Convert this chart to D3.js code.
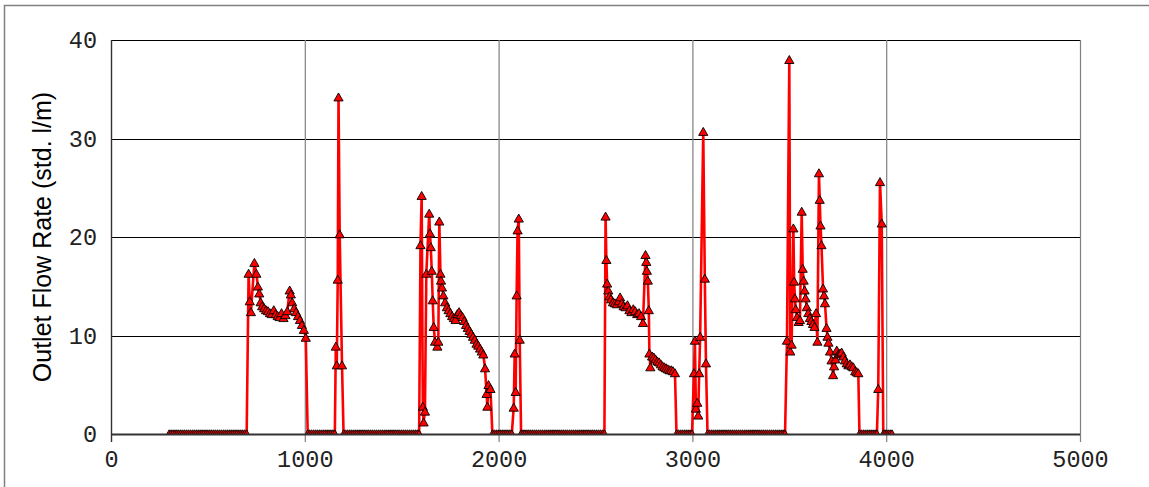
<!DOCTYPE html>
<html>
<head>
<meta charset="utf-8">
<script src="https://cdn.jsdelivr.net/npm/d3@7"></script>
<style>
  html, body { margin: 0; padding: 0; background: #ffffff; }
  svg { display: block; }
</style>
</head>
<body>
<svg id="chart" width="1149" height="487"></svg>
<script>
// Elapsed time (s) of each logged sample
const time = [
  300,310,320,330,340,350,360,370,380,390,
  400,410,420,430,440,450,460,470,480,490,
  500,510,520,530,540,550,560,570,580,590,
  600,610,620,630,640,650,660,670,680,690,
  700,
  710,716,722,740,750,758,765,772,780,790,
  800,810,820,830,840,850,860,870,880,890,
  900,910,922,928,935,945,955,965,975,985,
  995,1005,
  1015,1025,1035,1045,1055,1065,1075,1085,1095,1105,
  1115,1125,1135,1145,1155,
  1160,1165,1170,1174,1180,1192,
  1200,1210,1220,1230,1240,1250,1260,1270,1280,1290,
  1300,1310,1320,1330,1340,1350,1360,1370,1380,1390,
  1400,1410,1420,1430,1440,1450,1460,1470,1480,1490,
  1500,1510,1520,1530,1540,1550,1560,1570,1580,1590,
  1597,1603,1609,1613,1620,1627,1642,1646,1650,1655,
  1660,1665,1672,1684,1689,1694,1700,1703,1708,1715,
  1724,1733,1742,1751,1760,1769,1778,1787,1796,1805,
  1814,1823,1832,1841,1850,1859,1868,1877,1886,1895,
  1904,1913,1921,1930,1938,1942,1948,1958,
  1968,1978,1988,1998,2008,2018,2028,2038,2048,2058,
  2068,
  2078,2083,2088,2093,2098,2104,2109,
  2116,2126,2136,2146,2156,2166,2176,2186,2196,2206,
  2216,2226,2236,2246,2256,2266,2276,2286,2296,2306,
  2316,2326,2336,2346,2356,2366,2376,2386,2396,2406,
  2416,2426,2436,2446,2456,2466,2476,2486,2496,2506,
  2516,2526,2536,2546,
  2552,2556,2560,2566,2572,2580,2590,2600,2610,2620,
  2627,2636,2645,2655,2665,2675,2685,2695,2705,2715,
  2725,2735,2745,2758,2762,2765,2770,2775,2778,2783,
  2792,2801,2810,2819,2828,2837,2846,2855,2864,2873,
  2882,2891,2900,2910,
  2918,2928,2938,2948,2958,2968,2978,2988,2998,
  3008,3013,3018,3025,3030,3035,3040,3056,3064,3070,
  3078,3088,3098,3108,3118,3128,3138,3148,3158,3168,
  3178,3188,3198,3208,3218,3228,3238,3248,3258,3268,
  3278,3288,3298,3308,3318,3328,3338,3348,3358,3368,
  3378,3388,3398,3408,3418,3428,3438,3448,3458,3468,
  3478,
  3488,3500,3505,3512,3521,3525,3529,3533,3540,3548,
  3555,3564,3569,3574,3579,3584,3590,3598,3606,3614,
  3622,3630,3638,3645,3653,3657,3661,3666,3674,3679,
  3684,3692,3697,3702,3710,3718,3726,3731,3738,3745,
  3753,3762,3770,3779,3787,3796,3805,3813,3822,3830,
  3840,3848,3856,
  3862,3872,3882,3892,3902,3912,3922,3932,3942,3952,
  3959,3968,3977,
  3985,3994,4003,4012,4021,4030
];

// Outlet flow rate (std. l/m) at each sample
const flow = [
  0,0,0,0,0,0,0,0,0,0,
  0,0,0,0,0,0,0,0,0,0,
  0,0,0,0,0,0,0,0,0,0,
  0,0,0,0,0,0,0,0,0,0,
  0,
  16.3,13.5,12.4,17.4,16.3,15.0,14.3,13.4,13.0,12.8,
  12.6,12.5,12.3,12.2,12.6,12.2,12.0,11.9,12.3,11.8,
  12.1,12.5,14.6,14.2,13.4,12.8,12.4,12.0,11.6,11.1,
  10.6,9.8,
  0,0,0,0,0,0,0,0,0,0,
  0,0,0,0,0,
  8.9,7.0,15.7,34.2,20.3,7.0,
  0,0,0,0,0,0,0,0,0,0,
  0,0,0,0,0,0,0,0,0,0,
  0,0,0,0,0,0,0,0,0,0,
  0,0,0,0,0,0,0,0,0,0,
  19.2,24.2,2.8,1.2,2.3,16.3,22.4,20.4,19.0,16.6,
  13.6,10.9,9.4,8.9,9.4,21.6,16.3,15.6,14.9,14.1,
  13.4,12.9,12.6,12.3,12.0,11.8,11.6,12.2,12.4,12.1,
  11.9,11.5,11.1,10.8,10.5,10.2,9.9,9.6,9.2,9.0,
  8.7,8.4,8.1,6.7,4.1,2.8,5.0,4.6,
  0,0,0,0,0,0,0,0,0,0,
  0,
  2.7,8.2,4.3,14.1,20.7,21.9,9.6,
  0,0,0,0,0,0,0,0,0,0,
  0,0,0,0,0,0,0,0,0,0,
  0,0,0,0,0,0,0,0,0,0,
  0,0,0,0,0,0,0,0,0,0,
  0,0,0,0,
  22.1,17.7,15.3,14.6,14.0,13.7,13.4,13.3,13.2,13.5,
  13.9,13.3,13.0,12.9,13.1,12.6,12.4,12.7,12.5,12.2,
  12.3,12.0,11.3,18.2,17.5,16.6,15.6,12.6,8.2,6.8,
  7.9,7.8,7.6,7.4,7.3,7.1,6.9,6.8,6.7,6.6,
  6.5,6.5,6.4,6.2,
  0,0,0,0,0,0,0,0,0,
  6.2,9.5,2.6,3.2,1.9,6.2,9.9,30.7,15.8,7.2,
  0,0,0,0,0,0,0,0,0,0,
  0,0,0,0,0,0,0,0,0,0,
  0,0,0,0,0,0,0,0,0,0,
  0,0,0,0,0,0,0,0,0,0,
  0,
  9.5,38.0,8.4,9.1,20.9,15.5,13.8,12.7,11.9,11.4,
  11.6,22.6,16.8,15.6,14.6,13.8,12.9,12.3,11.8,11.5,
  11.2,10.9,12.3,9.4,26.5,23.8,21.2,19.2,14.8,14.1,
  13.3,10.8,9.9,9.3,8.4,7.5,6.0,6.9,7.6,8.5,
  8.1,8.2,8.3,7.9,7.5,7.2,7.0,7.1,6.9,6.8,
  6.4,6.3,6.2,
  0,0,0,0,0,0,0,0,0,0,
  4.6,25.6,21.4,
  0,0,0,0,0,0
];

const xTicks = [0, 1000, 2000, 3000, 4000, 5000];
const yTicks = [0, 10, 20, 30, 40];
const yTitle = "Outlet Flow Rate (std. l/m)";

if (time.length !== flow.length) console.error("time/flow length mismatch", time.length, flow.length);
const samples = d3.zip(time, flow);

const plot = { left: 111, right: 1080, top: 40, bottom: 434 };
const svg = d3.select("#chart");

const x = d3.scaleLinear().domain([0, 5000]).range([plot.left, plot.right]);
const y = d3.scaleLinear().domain([0, 40]).range([plot.bottom, plot.top]);

// outer chart-area frame (runs off the right and bottom edges)
svg.append("rect")
  .attr("x", 4.5).attr("y", 5.5)
  .attr("width", 1300).attr("height", 700)
  .attr("fill", "#ffffff")
  .attr("stroke", "#808080").attr("stroke-width", 1.5);

svg.append("defs").append("clipPath").attr("id", "plot-clip")
  .append("rect")
  .attr("x", plot.left).attr("y", plot.top - 10)
  .attr("width", plot.right - plot.left)
  .attr("height", plot.bottom - plot.top + 10);

// horizontal gridlines
svg.append("g")
  .selectAll("line")
  .data(yTicks.filter(v => v > 0))
  .join("line")
  .attr("x1", plot.left).attr("x2", plot.right)
  .attr("y1", d => Math.round(y(d)) + 0.5).attr("y2", d => Math.round(y(d)) + 0.5)
  .attr("stroke", "#000000").attr("stroke-width", 1);

// x axis: ticks, labels, vertical gridlines
const xAxis = svg.append("g")
  .attr("transform", `translate(0,${plot.bottom})`)
  .call(d3.axisBottom(x).tickValues(xTicks).tickSize(8).tickPadding(8).tickFormat(d3.format("d")));
xAxis.select(".domain").remove();
xAxis.selectAll(".tick line")
  .attr("y1", -(plot.bottom - plot.top))
  .attr("stroke", "#808080").attr("stroke-width", 1.2);
xAxis.selectAll(".tick text")
  .attr("font-family", "'Liberation Mono', 'Courier New', monospace")
  .attr("font-size", 23.5)
  .attr("fill", "#222222");

// y axis labels
const yAxis = svg.append("g")
  .attr("transform", `translate(${plot.left},0)`)
  .call(d3.axisLeft(y).tickValues(yTicks).tickSize(0).tickPadding(14).tickFormat(d3.format("d")));
yAxis.select(".domain").remove();
yAxis.selectAll(".tick text")
  .attr("font-family", "'Liberation Mono', 'Courier New', monospace")
  .attr("font-size", 23.5)
  .attr("fill", "#222222");

// series
const series = svg.append("g").attr("clip-path", "url(#plot-clip)");

series.append("path")
  .datum(samples)
  .attr("fill", "none")
  .attr("stroke", "#ff0000")
  .attr("stroke-width", 2.6)
  .attr("stroke-linejoin", "round")
  .attr("d", d3.line().x(d => x(d[0])).y(d => y(d[1])));

const triangle = "M0,-4.2L4.6,3.8L-4.6,3.8Z";
series.append("g")
  .selectAll("path")
  .data(samples)
  .join("path")
  .attr("transform", d => `translate(${x(d[0])},${y(d[1])})`)
  .attr("d", triangle)
  .attr("fill", "#ff0000")
  .attr("stroke", "#000000")
  .attr("stroke-width", 0.9);

// axis lines on top
svg.append("line")
  .attr("x1", plot.left + 0.5).attr("x2", plot.left + 0.5)
  .attr("y1", plot.top).attr("y2", plot.bottom + 8)
  .attr("stroke", "#333333").attr("stroke-width", 1.3);
svg.append("line")
  .attr("x1", plot.left).attr("x2", plot.right)
  .attr("y1", plot.bottom + 0.5).attr("y2", plot.bottom + 0.5)
  .attr("stroke", "#333333").attr("stroke-width", 2);

// y axis title
svg.append("text")
  .attr("transform", `translate(51,${(plot.top + plot.bottom) / 2}) rotate(-90)`)
  .attr("text-anchor", "middle")
  .attr("font-family", "'Liberation Sans', Arial, sans-serif")
  .attr("font-size", 25)
  .attr("fill", "#000000")
  .text(yTitle);
</script>
</body>
</html>
